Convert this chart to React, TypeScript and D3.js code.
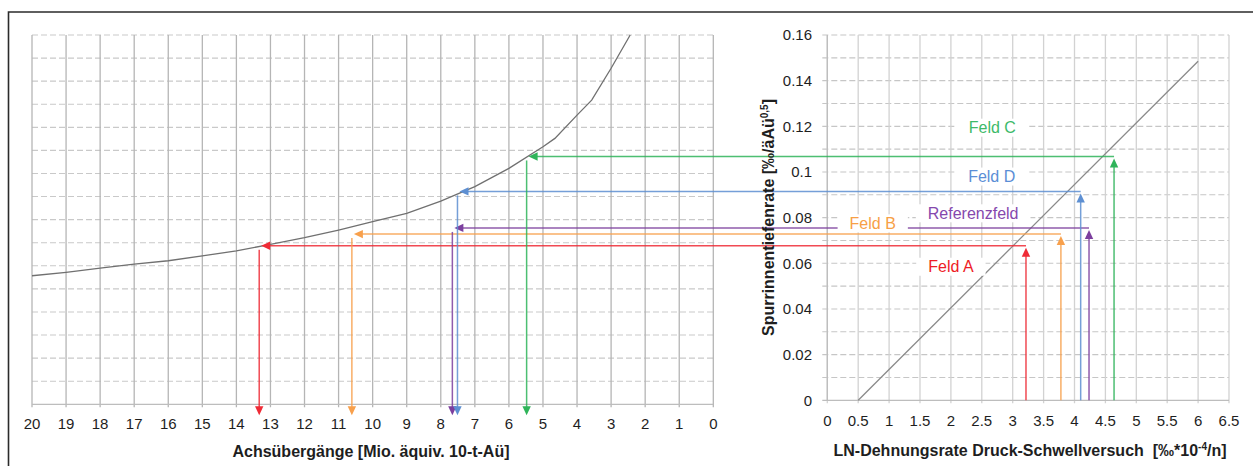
import React, { useEffect, useRef } from 'react';
import * as d3 from 'd3';

// ---------- data ----------
const axleTicks = [20, 19, 18, 17, 16, 15, 14, 13, 12, 11, 10, 9, 8, 7, 6, 5, 4, 3, 2, 1, 0];
const axleTickLabels = ['20', '19', '18', '17', '16', '15', '14', '13', '12', '11', '10', '9', '8', '7', '6', '5', '4', '3', '2', '1', '0'];
const strainTicks = [0, 0.5, 1, 1.5, 2, 2.5, 3, 3.5, 4, 4.5, 5, 5.5, 6, 6.5];
const strainTickLabels = ['0', '0.5', '1', '1.5', '2', '2.5', '3', '3.5', '4', '4.5', '5', '5.5', '6', '6.5'];
const rateTicks = [0, 0.02, 0.04, 0.06, 0.08, 0.1, 0.12, 0.14, 0.16];
const rateTickLabels = ['0', '0.02', '0.04', '0.06', '0.08', '0.1', '0.12', '0.14', '0.16'];
const rateGrid = [0, 0.01, 0.02, 0.03, 0.04, 0.05, 0.06, 0.07, 0.08, 0.09, 0.1, 0.11, 0.12, 0.13, 0.14, 0.15, 0.16];

// left curve: rut rate vs. axle passes
const curveAxle = [20, 19, 18, 17, 16, 15, 14, 13, 12, 11, 10, 9, 8, 7, 6, 5, 4.65, 4, 3.57, 3, 2.44];
const curveRate = [0.0557, 0.0572, 0.059, 0.0607, 0.0622, 0.0643, 0.0665, 0.0693, 0.0722, 0.0755, 0.0791, 0.0827, 0.088, 0.0943, 0.1022, 0.1116, 0.1152, 0.1253, 0.1318, 0.1456, 0.16];

// right regression line
const lineStrain = [0.5, 6];
const lineRate = [0, 0.1485];

// fields
const fieldNames = ['Feld A', 'Feld B', 'Referenzfeld', 'Feld D', 'Feld C'];
const fieldColors = ['#ef2b36', '#f8a04c', '#7c3f9e', '#5d8fd2', '#2fb45a'];
const fieldLabelColors = ['#ee1c25', '#f7a046', '#8548ad', '#5b8ed6', '#3dba69'];
const fieldRate = [0.0677, 0.0728, 0.0755, 0.0915, 0.1068];
const fieldStrain = [3.215, 3.78, 4.235, 4.1, 4.64];
const fieldAxle = [13.33, 10.61, 7.66, 7.51, 5.48];
const labelStrain = [2.0, 0.735, 2.36, 2.66, 2.67];
const labelRate = [0.0585, 0.0775, 0.0819, 0.098, 0.1194];

const FONT = '"Liberation Sans", Arial, Helvetica, sans-serif';

export default function App() {
  const ref = useRef<SVGSVGElement | null>(null);

  useEffect(() => {
    const svg = d3.select(ref.current);
    svg.selectAll('*').remove();

    const xL = d3.scaleLinear().domain([20, 0]).range([32, 713.3]);
    const yL = d3.scaleLinear().domain([0, 0.16]).range([404.3, 35]);
    const xR = d3.scaleLinear().domain([0, 6.5]).range([827.3, 1229]);
    const yR = d3.scaleLinear().domain([0, 0.16]).range([400.3, 35]);

    svg.append('rect').attr('width', 1253).attr('height', 466).attr('fill', '#fff');

    // frame
    svg.append('path').attr('d', 'M8.5,470V12H1260').attr('fill', 'none').attr('stroke', '#2b2b2b').attr('stroke-width', 1.6);

    // ---- left grid ----
    const gL = svg.append('g');
    gL.selectAll('line.h').data(rateGrid.slice(1)).join('line')
      .attr('x1', xL(20)).attr('x2', xL(0))
      .attr('y1', d => yL(d)).attr('y2', d => yL(d))
      .attr('stroke', '#c9c9c9').attr('stroke-width', 1.1).attr('stroke-dasharray', '6,3');
    gL.selectAll('line.v').data(axleTicks).join('line')
      .attr('x1', d => xL(d)).attr('x2', d => xL(d))
      .attr('y1', yL(0.16)).attr('y2', yL(0) + 3)
      .attr('stroke', '#b5b5b5').attr('stroke-width', 1.3);
    gL.append('line').attr('x1', xL(20)).attr('x2', xL(0)).attr('y1', yL(0)).attr('y2', yL(0))
      .attr('stroke', '#bdbdbd').attr('stroke-width', 1.3);
    gL.selectAll('text').data(axleTicks).join('text')
      .attr('x', d => xL(d)).attr('y', 429)
      .attr('text-anchor', 'middle').attr('font-size', 15).attr('font-family', FONT).attr('fill', '#1e1e1e')
      .text((d, i) => axleTickLabels[i]);

    // ---- right grid ----
    const gR = svg.append('g');
    gR.selectAll('line.h').data(rateGrid.slice(1)).join('line')
      .attr('x1', xR(0) - 5).attr('x2', xR(6.5))
      .attr('y1', d => yR(d)).attr('y2', d => yR(d))
      .attr('stroke', '#c6c6c6').attr('stroke-width', 1.1).attr('stroke-dasharray', '6,3');
    gR.selectAll('line.v').data(strainTicks).join('line')
      .attr('x1', d => xR(d)).attr('x2', d => xR(d))
      .attr('y1', yR(0.16)).attr('y2', yR(0) + 3)
      .attr('stroke', '#d2d2d2').attr('stroke-width', 1.3);
    gR.append('line').attr('x1', xR(0)).attr('x2', xR(0)).attr('y1', yR(0.16)).attr('y2', yR(0))
      .attr('stroke', '#bdbdbd').attr('stroke-width', 1.3);
    gR.append('line').attr('x1', xR(0) - 5).attr('x2', xR(6.5)).attr('y1', yR(0)).attr('y2', yR(0))
      .attr('stroke', '#bdbdbd').attr('stroke-width', 1.3);
    gR.selectAll('text.x').data(strainTicks).join('text')
      .attr('x', d => xR(d)).attr('y', 426)
      .attr('text-anchor', 'middle').attr('font-size', 15).attr('font-family', FONT).attr('fill', '#1e1e1e')
      .text((d, i) => strainTickLabels[i]);
    gR.selectAll('text.y').data(rateTicks).join('text')
      .attr('x', 812).attr('y', d => yR(d) + 5.3)
      .attr('text-anchor', 'end').attr('font-size', 15).attr('font-family', FONT).attr('fill', '#1e1e1e')
      .text((d, i) => rateTickLabels[i]);

    // ---- curves ----
    const curve = d3.line<number>().x((d, i) => xL(curveAxle[i])).y(d => yL(d));
    svg.append('path').attr('d', curve(curveRate)).attr('fill', 'none').attr('stroke', '#707070').attr('stroke-width', 1.3);
    const reg = d3.line<number>().x((d, i) => xR(lineStrain[i])).y(d => yR(d));
    svg.append('path').attr('d', reg(lineRate)).attr('fill', 'none').attr('stroke', '#8a8a8a').attr('stroke-width', 1.3);

    // ---- arrows ----
    const gA = svg.append('g');
    const tri = (x: number, y: number, dir: string) => {
      const L = 9, W = 4.2;
      if (dir === 'left') return `M${x},${y}L${x + L},${y - W}L${x + L},${y + W}Z`;
      if (dir === 'down') return `M${x},${y}L${x - W},${y - L}L${x + W},${y - L}Z`;
      return `M${x},${y}L${x - W},${y + L}L${x + W},${y + L}Z`;
    };
    fieldNames.forEach((name, i) => {
      const c = fieldColors[i];
      const yy = yR(fieldRate[i]);
      const xa = xL(fieldAxle[i]);
      const xs = xR(fieldStrain[i]);
      const bottom = yL(0) + 11;
      gA.append('line').attr('x1', xa + 8).attr('x2', xs).attr('y1', yy).attr('y2', yy)
        .attr('stroke', c).attr('stroke-width', 1.5).attr('opacity', 0.85);
      gA.append('path').attr('d', tri(xa + 2, yy, 'left')).attr('fill', c);
      gA.append('line').attr('x1', xa).attr('x2', xa).attr('y1', yy + 4).attr('y2', bottom - 7)
        .attr('stroke', c).attr('stroke-width', 1.5).attr('opacity', 0.85);
      gA.append('path').attr('d', tri(xa, bottom, 'down')).attr('fill', c);
      gA.append('line').attr('x1', xs).attr('x2', xs).attr('y1', yR(0)).attr('y2', yy + 9)
        .attr('stroke', c).attr('stroke-width', 1.5).attr('opacity', 0.85);
      gA.append('path').attr('d', tri(xs, yy + 2, 'up')).attr('fill', c);
    });

    // ---- labels ----
    const gT = svg.append('g');
    fieldNames.forEach((name, i) => {
      const g = gT.append('g');
      const bg = g.append('rect').attr('fill', '#fff');
      const t = g.append('text')
        .attr('x', xR(labelStrain[i])).attr('y', yR(labelRate[i]))
        .attr('dy', '0.35em')
        .attr('text-anchor', 'middle').attr('font-size', 16).attr('font-family', FONT)
        .attr('fill', fieldLabelColors[i]).text(name);
      const w = (t.node() as SVGTextElement).getComputedTextLength();
      const pad = 12;
      bg.attr('x', xR(labelStrain[i]) - w / 2 - pad).attr('width', w + 2 * pad)
        .attr('y', yR(labelRate[i]) - 9).attr('height', 18);
    });

    // ---- axis titles ----
    svg.append('text').attr('x', 371).attr('y', 457)
      .attr('text-anchor', 'middle').attr('font-size', 16).attr('font-weight', 'bold')
      .attr('font-family', FONT).attr('fill', '#1e1e1e')
      .text('Achsübergänge [Mio. äquiv. 10-t-Aü]');

    const xt = svg.append('text').attr('x', 1030).attr('y', 455.5)
      .attr('text-anchor', 'middle').attr('font-size', 16).attr('font-weight', 'bold')
      .attr('font-family', FONT).attr('fill', '#1e1e1e');
    xt.append('tspan').text('LN-Dehnungsrate Druck-Schwellversuch \u00a0[‰*10');
    xt.append('tspan').attr('font-size', 10).attr('dy', -6).text('-4');
    xt.append('tspan').attr('dy', 6).text('/n]');

    const yt = svg.append('text').attr('transform', 'translate(774,217.5) rotate(-90)')
      .attr('text-anchor', 'middle').attr('font-size', 16).attr('font-weight', 'bold')
      .attr('font-family', FONT).attr('fill', '#1e1e1e');
    yt.append('tspan').text('Spurrinnentiefenrate [‰/äAü');
    yt.append('tspan').attr('font-size', 10).attr('dy', -6).text('0,5');
    yt.append('tspan').attr('dy', 6).text(']');
  }, []);

  return (
    <svg ref={ref} width={1253} height={466}
      style={{ position: 'absolute', left: 0, top: 0, display: 'block' }} />
  );
}
